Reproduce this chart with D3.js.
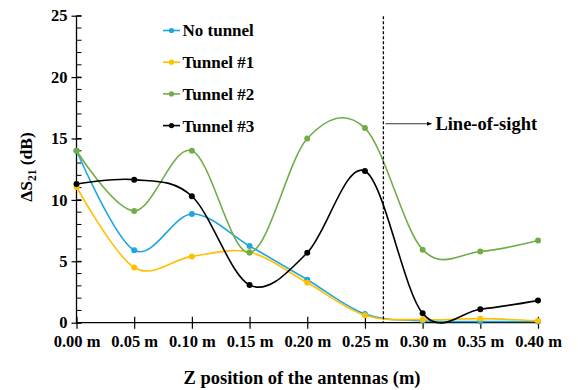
<!DOCTYPE html>
<html lang="en">
<head>
    <meta charset="UTF-8">
    <title>Delta S21 vs Z position</title>
    <script src="https://d3js.org/d3.v7.min.js" charset="utf-8"></script>
    <style>
        body { margin: 0; background: #fff; }
        text { font-family: "Liberation Serif", "Times New Roman", serif; font-weight: bold; fill: #000; }
    </style>
</head>
<body>
    <div id="vis"></div>
    <script>

        var width = 578;
        var height = 390;

        // data
        var zPositions = [0.00, 0.05, 0.10, 0.15, 0.20, 0.25, 0.30, 0.35, 0.40];
        var xTickLabels = ["0.00 m", "0.05 m", "0.10 m", "0.15 m", "0.20 m", "0.25 m", "0.30 m", "0.35 m", "0.40 m"];
        var yTicks = [0, 5, 10, 15, 20, 25];
        var seriesNames = ["No tunnel", "Tunnel #1", "Tunnel #2", "Tunnel #3"];
        var seriesColors = ["#1ea6e0", "#ffc000", "#70ad47", "#000000"];
        var noTunnel = [14.0, 5.9, 8.85, 6.25, 3.5, 0.7, 0.15, 0.1, 0.1];
        var tunnel1  = [11.05, 4.5, 5.4, 5.75, 3.25, 0.6, 0.25, 0.33, 0.15];
        var tunnel2  = [14.0, 9.1, 14.0, 5.7, 15.0, 15.85, 5.95, 5.8, 6.7];
        var tunnel3  = [11.3, 11.65, 10.3, 3.07, 5.7, 12.35, 0.76, 1.1, 1.8];
        var lineOfSight = 0.266;

        var allSeries = [noTunnel, tunnel1, tunnel2, tunnel3];

        var margin = { top: 15.7, left: 76.5, right: 40, bottom: 67.3 };
        var innerW = 538 - margin.left;
        var innerH = 322.7 - margin.top;

        var svg = d3.select("#vis")
            .append("svg")
            .attr("width", width)
            .attr("height", height);

        var g = svg.append("g")
            .attr("transform", "translate(" + margin.left + "," + margin.top + ")");

        var x_scale = d3.scaleLinear().domain([0, 0.40]).range([0, innerW]);
        var y_scale = d3.scaleLinear().domain([0, 25]).range([innerH, 0]);

        // y axis: minor ticks inside, major ticks crossing
        g.selectAll(".minor")
            .data(d3.range(0, 26))
            .enter()
            .append("line")
            .attr("x1", 0).attr("x2", 5)
            .attr("y1", function(d){ return y_scale(d); })
            .attr("y2", function(d){ return y_scale(d); })
            .attr("stroke", "#000").attr("stroke-width", 1);

        var y_axis = d3.axisLeft(y_scale).tickValues(yTicks).tickSize(5).tickPadding(4);
        var yg = g.append("g").call(y_axis);
        yg.select(".domain").remove();
        yg.selectAll(".tick line").attr("x2", -5).attr("x1", 5).attr("stroke-width", 1.2);
        yg.selectAll("text").style("font-size", "16.5px").style("font-family", "Liberation Serif").style("font-weight", "bold");
        g.append("line").attr("x1", 0).attr("x2", 0).attr("y1", 0).attr("y2", innerH)
            .attr("stroke", "#000").attr("stroke-width", 1.3);

        // x axis: ticks crossing the line
        var x_axis = d3.axisBottom(x_scale).tickValues(zPositions)
            .tickFormat(function(d, i){ return xTickLabels[i]; })
            .tickSize(5).tickPadding(8);
        var xg = g.append("g").attr("transform", "translate(0," + innerH + ")").call(x_axis);
        xg.select(".domain").remove();
        xg.selectAll(".tick line").attr("y1", -6).attr("y2", 6).attr("stroke-width", 1.2);
        xg.selectAll("text").style("font-size", "16.5px").style("font-family", "Liberation Serif").style("font-weight", "bold");
        g.append("line").attr("x1", 0).attr("x2", innerW).attr("y1", innerH).attr("y2", innerH)
            .attr("stroke", "#000").attr("stroke-width", 1.3);

        // series
        var line = d3.line()
            .x(function(d, i){ return x_scale(zPositions[i]); })
            .y(function(d){ return y_scale(d); })
            .curve(d3.curveCardinal.tension(0));

        allSeries.forEach(function(s, k) {
            g.append("path")
                .datum(s)
                .attr("d", line)
                .attr("fill", "none")
                .attr("stroke", seriesColors[k])
                .attr("stroke-width", 1.6);
            g.selectAll(".pt" + k)
                .data(s)
                .enter()
                .append("circle")
                .attr("cx", function(d, i){ return x_scale(zPositions[i]); })
                .attr("cy", function(d){ return y_scale(d); })
                .attr("r", 3)
                .attr("fill", seriesColors[k]);
        });

        // line-of-sight marker
        var losX = x_scale(lineOfSight);
        g.append("line")
            .attr("x1", losX).attr("x2", losX)
            .attr("y1", y_scale(24.95)).attr("y2", innerH)
            .attr("stroke", "#000").attr("stroke-width", 1.3)
            .attr("stroke-dasharray", "3,2");

        svg.append("defs").append("marker")
            .attr("id", "arrow")
            .attr("viewBox", "0 0 10 10")
            .attr("refX", 9).attr("refY", 5)
            .attr("markerWidth", 6).attr("markerHeight", 6)
            .attr("orient", "auto")
            .append("path").attr("d", "M0,1 L10,5 L0,9 z").attr("fill", "#000");

        var arrowY = y_scale(16.2);
        g.append("line")
            .attr("x1", losX + 2).attr("x2", losX + 48)
            .attr("y1", arrowY).attr("y2", arrowY)
            .attr("stroke", "#000").attr("stroke-width", 0.8)
            .attr("marker-end", "url(#arrow)");
        g.append("text")
            .attr("x", losX + 52).attr("y", arrowY)
            .attr("dy", "0.35em")
            .style("font-size", "18.5px")
            .text("Line-of-sight");

        // legend
        var legend = svg.append("g").attr("transform", "translate(163,30.5)");
        seriesNames.forEach(function(name, k) {
            var row = legend.append("g").attr("transform", "translate(0," + (k * 31.7) + ")");
            row.append("line").attr("x1", 0).attr("x2", 17).attr("y1", 0).attr("y2", 0)
                .attr("stroke", seriesColors[k]).attr("stroke-width", 1.6);
            row.append("circle").attr("cx", 8.5).attr("cy", 0).attr("r", 2.6).attr("fill", seriesColors[k]);
            row.append("text").attr("x", 19.5).attr("y", 0).attr("dy", "0.35em")
                .style("font-size", "17px").text(name);
        });

        // axis titles
        svg.append("text")
            .attr("transform", "translate(26,167) rotate(-90)")
            .attr("text-anchor", "middle")
            .attr("dy", "0.35em")
            .style("font-size", "17.5px")
            .call(function(t) {
                t.append("tspan").text("\u0394S");
                t.append("tspan").attr("dy", "4").style("font-size", "11.5px").text("21");
                t.append("tspan").attr("dy", "-4").text(" (dB)");
            });

        svg.append("text")
            .attr("x", 302).attr("y", 378)
            .attr("dy", "0.35em")
            .attr("text-anchor", "middle")
            .style("font-size", "18.5px")
            .text("Z position of the antennas (m)");

    </script>
</body>
</html>
